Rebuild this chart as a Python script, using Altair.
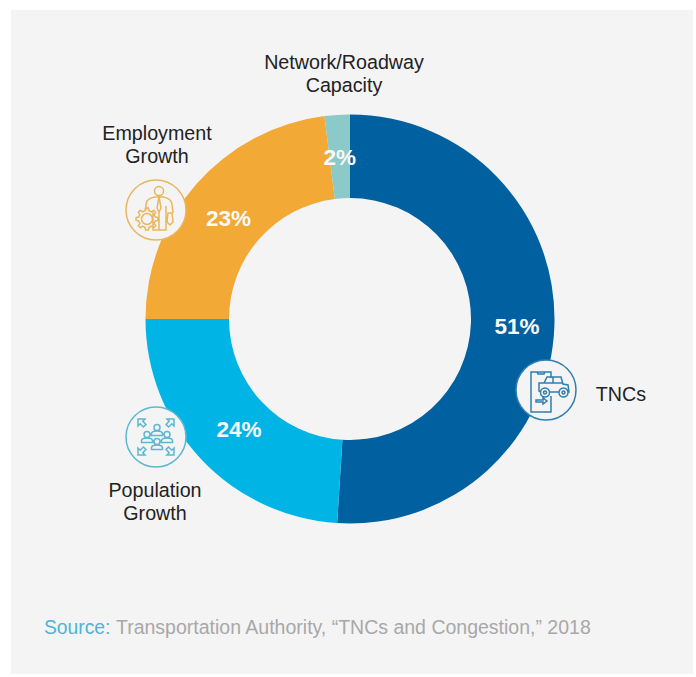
import math

import altair as alt
import pandas as pd

# Shares of congestion growth, clockwise from twelve o'clock
categories = ["TNCs", "Population Growth", "Employment Growth", "Network/Roadway Capacity"]
shares = [51, 24, 23, 2]
share_labels = ["51%", "24%", "23%", "2%"]
slice_colors = ["#0060a0", "#00b5e6", "#f2a935", "#8cc9c9"]
source_lead = "Source:"
source_rest = "Transportation Authority, “TNCs and Congestion,” 2018"

FONT = "Liberation Sans"
PANEL = "#f4f4f4"
CX, CY = 350, 319

rows = []
running = 0
for name, share, label in zip(categories, shares, share_labels):
    rows.append({"name": name, "label": label, "start": running,
                 "end": running + share, "mid": running + share / 2})
    running += share
slices = pd.DataFrame(rows)

theta_scale = alt.Scale(domain=[0, 100], range=[0, 2 * math.pi])


def circle(x, y, r):
    return f"M{x - r},{y}a{r},{r} 0 1,0 {2 * r},0a{r},{r} 0 1,0 {-2 * r},0Z"


def gear(x, y, inner, outer, teeth):
    pts = []
    step = 2 * math.pi / teeth
    for i in range(teeth):
        a = i * step
        for off, rad in ((-0.3, inner), (-0.17, outer), (0.17, outer), (0.3, inner)):
            pts.append((x + rad * math.cos(a + off * step), y + rad * math.sin(a + off * step)))
    return "M" + "L".join(f"{px:.1f},{py:.1f}" for px, py in pts) + "Z"


def person(x, y):
    return (circle(x, y - 3.5, 3)
            + f"M{x - 5.5},{y + 4.5}L{x - 5.5},{y + 2.5}Q{x - 5},{y} {x},{y}Q{x + 5},{y} {x + 5.5},{y + 2.5}L{x + 5.5},{y + 4.5}Z")


def corner_arrow(sx, sy):
    pts = [(18, 18), (11, 18), (13.2, 15.8), (10, 12.6), (12.6, 10), (15.8, 13.2), (18, 11)]
    return "M" + "L".join(f"{sx * a},{sy * b}" for a, b in pts) + "Z"


# Icons are drawn in pixel units around their centres (a symbol of size 4 renders at scale 1)
ICON_WORKER = (
    circle(3, -19, 4.5)
    + "M-10,0L-10,-6Q-9,-12 -1,-13L7,-13Q15,-12 16,-6L17,3"
    + "M-3,2L-3,20L10,20L10,-4M3,2L3,20"
    + "M3,-13L1,-2L3,2L5,-2Z"
    + "M12,3L16,3L17,12L14,15L11,12Z"
    + gear(-9, 9, 8.5, 11, 8)
    + circle(-9, 9, 5.5)
)
ICON_RIDE = (
    "M5,-12L5,-18L-15,-18L-15,22L5,22L5,6"
    + "M-9,-18L-8,-16L-2,-16L-1,-18"
    + "M-10,10L-3,10L-3,8L1,11L-3,14L-3,12L-10,12Z"
    + "M-5,2L-7,1L-7,-7L-2,-7L1,-13L15,-13L17,-6L22,-5L23,2L22,2"
    + "M4,2L13,2M-2,-7L17,-7M7,-13L7,-7"
    + circle(-1, 2.5, 4.5) + circle(-1, 2.5, 1.5)
    + circle(17.5, 2.5, 4.5) + circle(17.5, 2.5, 1.5)
)
ICON_CROWD = (
    person(1, -6) + person(-9, 1) + person(11, 1) + person(1, 8)
    + corner_arrow(-1, -1) + corner_arrow(1, -1) + corner_arrow(-1, 1) + corner_arrow(1, 1)
)

panel = alt.Chart(slices.head(1)).mark_rect(color=PANEL).encode(
    x=alt.value(11), x2=alt.value(693), y=alt.value(10), y2=alt.value(674)
)

ring = alt.Chart(slices).mark_arc(radius=204.5, radius2=121).encode(
    theta=alt.Theta("start:Q", scale=theta_scale),
    theta2="end:Q",
    x=alt.value(CX),
    y=alt.value(CY),
    color=alt.Color("name:N", scale=alt.Scale(domain=categories, range=slice_colors), legend=None),
)

layers = [panel, ring]

# White percentages sit inside the ring, nudged off the mid-angle where the design does
label_nudges = {"51%": (5, 3), "24%": (7, 0), "23%": (0, 7), "2%": (0, 1)}
for label, (dx, dy) in label_nudges.items():
    layers.append(
        alt.Chart(slices[slices["label"] == label])
        .mark_text(radius=162, dx=dx, dy=dy, font=FONT, fontSize=22.5, fontWeight="bold",
                   color="#fafafa", baseline="middle", align="center")
        .encode(
            theta=alt.Theta("mid:Q", scale=theta_scale),
            x=alt.value(CX),
            y=alt.value(CY),
            text="label:N",
        )
    )

# Icon badges
for cx, cy, edge, glyph in [
    (546, 390, "#2f7fb0", ICON_RIDE),
    (156, 210, "#eab65c", ICON_WORKER),
    (156, 437, "#5bb8cf", ICON_CROWD),
]:
    layers.append(
        alt.Chart(slices.head(1)).mark_point(
            shape="circle", size=3600, filled=True, fill=PANEL, stroke=edge, strokeWidth=1.5, opacity=1
        ).encode(x=alt.value(cx), y=alt.value(cy))
    )
    layers.append(
        alt.Chart(slices.head(1)).mark_point(
            shape=glyph, size=4, filled=False, stroke=edge, strokeWidth=1.5, opacity=1
        ).encode(x=alt.value(cx), y=alt.value(cy))
    )

# Category captions, broken onto two lines where they are long
captions = {
    "Network/Roadway Capacity": ("Network/Roadway\nCapacity", 344, 62.5),
    "Employment Growth": ("Employment\nGrowth", 157, 133.5),
    "Population Growth": ("Population\nGrowth", 155, 490.5),
    "TNCs": ("TNCs", 621, 394.5),
}
for name, (text, x, y) in captions.items():
    layers.append(
        alt.Chart(slices[slices["name"] == name])
        .mark_text(font=FONT, fontSize=19.7, color="#222222", lineBreak="\n", lineHeight=23,
                   baseline="middle", align="center")
        .encode(x=alt.value(x), y=alt.value(y), text=alt.value(text))
    )

layers.append(
    alt.Chart(slices.head(1))
    .mark_text(font=FONT, fontSize=19.3, color="#4db5d5", align="left", baseline="middle")
    .encode(x=alt.value(44), y=alt.value(628), text=alt.value(source_lead))
)
layers.append(
    alt.Chart(slices.head(1))
    .mark_text(font=FONT, fontSize=19.5, color="#a8a8a8", align="left", baseline="middle")
    .encode(x=alt.value(116), y=alt.value(628), text=alt.value(source_rest))
)

chart = (
    alt.layer(*layers)
    .properties(width=696, height=677, padding=0, autosize=alt.AutoSizeParams(type="none"),
                background="white")
    .configure_view(stroke=None)
)

chart.save("out.html", embed_options={"renderer": "svg", "actions": False})
